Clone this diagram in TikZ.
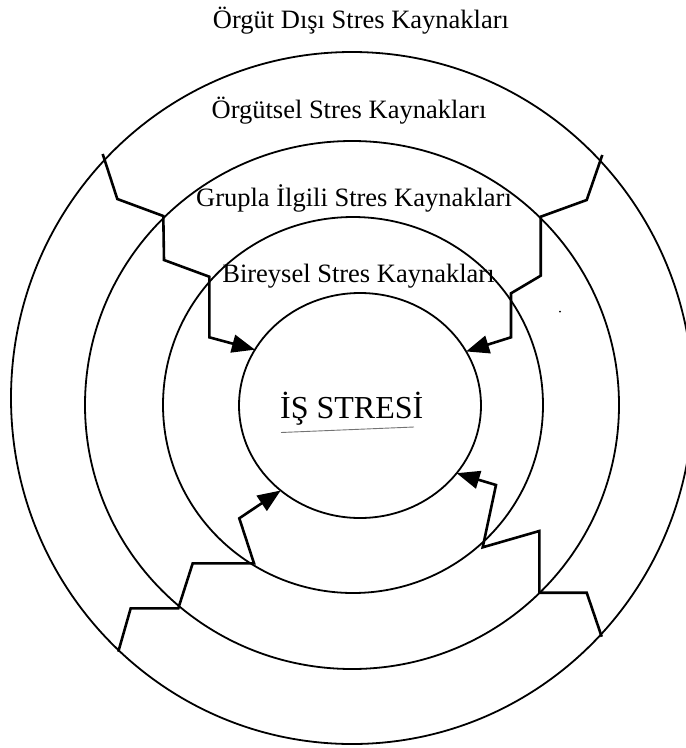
\documentclass[tikz,border=0pt]{standalone}
\usepackage{fontspec}
\setmainfont{Liberation Serif}
\usetikzlibrary{arrows.meta,shapes.geometric}
\begin{document}
\begin{tikzpicture}[x=1pt,y=-1pt,
  ring/.style={draw, ellipse, line width=1.8pt, inner sep=0pt, outer sep=0pt},
  link/.style={line width=2.6pt, line join=miter},
  feed/.style={link, -{Triangle[length=23pt,width=18pt]}},
  lbl/.style={anchor=base, inner sep=0pt, font=\fontsize{26.5}{30}\selectfont},
  core/.style={anchor=base west, inner sep=0pt, font=\fontsize{32}{36}\selectfont}]
\useasboundingbox (0,0) rectangle (686,748);
% rings
\node[ring, minimum width=682pt, minimum height=692pt] (c1) at (352,398) {};
\node[ring, minimum width=534pt, minimum height=528pt] (c2) at (352,405) {};
\node[ring, minimum width=380pt, minimum height=376pt] (c3) at (353,405) {};
\node[ring, minimum width=242pt, minimum height=225pt] (c4) at (360,405.5) {};
% labels
\node[lbl] (t1) at (361,28) {Örgüt Dışı Stres Kaynakları};
\node[lbl] (t2) at (349,118) {Örgütsel Stres Kaynakları};
\node[lbl] (t3) at (354,206) {Grupla İlgili Stres Kaynakları};
\node[lbl] (t4) at (358.5,282) {Bireysel Stres Kaynakları};
\node[core] (t5) at (280,418) {İŞ STRESİ};
\coordinate (u1) at (281,432.5);
\coordinate (u2) at (414,427);
\draw[black!55, line width=0.9pt] (u1) -- (u2);
% top-left connector
\coordinate (a1) at (102.7,154);
\coordinate (a2) at (117.3,199);
\coordinate (a3) at (163.3,216);
\coordinate (a4) at (164,260);
\coordinate (a5) at (209.3,276.7);
\coordinate (a6) at (209.3,337.3);
\draw[feed] (a1) -- (a2) -- (a3) -- (a4) -- (a5) -- (a6) -- (c4.152);
% top-right connector
\coordinate (b1) at (602.3,155);
\coordinate (b2) at (586.7,200);
\coordinate (b3) at (540.7,216.7);
\coordinate (b4) at (540.7,275.7);
\coordinate (b5) at (511,293.3);
\coordinate (b6) at (511,337.3);
\draw[feed] (b1) -- (b2) -- (b3) -- (b4) -- (b5) -- (b6) -- (c4.27);
% bottom-left connector
\coordinate (d1) at (118.3,651.7);
\coordinate (d2) at (130.7,608.3);
\coordinate (d3) at (178.3,608.3);
\coordinate (d4) at (192.7,563.3);
\coordinate (d5) at (254,563.3);
\coordinate (d6) at (239.3,518.3);
\draw[feed] (d1) -- (d2) -- (d3) -- (d4) -- (d5) -- (d6) -- (c4.227);
% bottom-right connector
\coordinate (e1) at (601.7,636.7);
\coordinate (e2) at (586.7,592.7);
\coordinate (e3) at (539.3,592.7);
\coordinate (e4) at (539.3,531);
\coordinate (e5) at (482.7,547.3);
\coordinate (e6) at (496,485);
\draw[feed] (e1) -- (e2) -- (e3) -- (e4) -- (e5) -- (e6) -- (c4.325);
% small speck
\coordinate (sp) at (560,311.7);
\fill (sp) circle (1pt);
\end{tikzpicture}
\end{document}
